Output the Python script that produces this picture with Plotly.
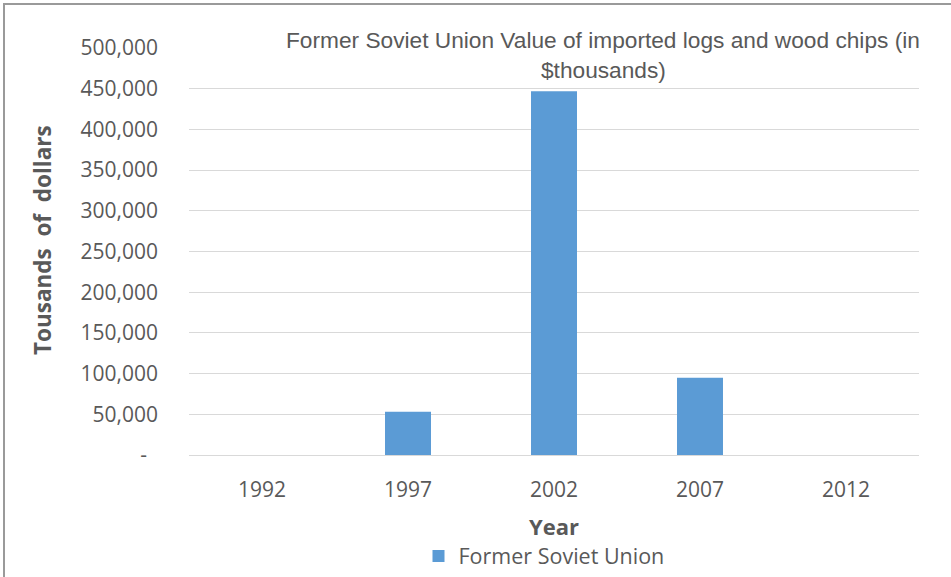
import plotly.graph_objects as go

years = ["1992", "1997", "2002", "2007", "2012"]
values = [0, 53000, 447000, 95000, 0]
series_name = "Former Soviet Union"
tick_vals = [0, 50000, 100000, 150000, 200000, 250000, 300000, 350000, 400000, 450000, 500000]
tick_text = ["-\u00a0\u00a0", "50,000", "100,000", "150,000", "200,000", "250,000",
             "300,000", "350,000", "400,000", "450,000", "500,000"]
title_line1 = "Former Soviet Union Value of imported logs and wood chips (in"
title_line2 = "$thousands)"
y_title = "Tousands  of  dollars"
x_title = "Year"

GRAY = "#595959"
FONT = "Open Sans, Segoe UI, sans-serif"
TFONT = "Liberation Sans, Arial, sans-serif"

fig = go.Figure()
fig.add_trace(go.Bar(x=years, y=values, name=series_name,
                     marker=dict(color="#5B9BD5", line=dict(width=0)), width=0.315))

L, R, T, B = 189, 32, 48, 122
W, H = 951, 577
pw, ph = W - L - R, H - T - B

def px(x):
    return (x - L) / pw

def py(y):
    return (H - B - y) / ph

fig.update_layout(
    template="none",
    width=W, height=H,
    margin=dict(l=L, r=R, t=T, b=B, pad=0, autoexpand=False),
    paper_bgcolor="white", plot_bgcolor="white",
    font=dict(family=FONT, color=GRAY, size=21),
    showlegend=True,
    legend=dict(orientation="h", x=px(544), y=py(556), xanchor="center", yanchor="middle",
                font=dict(size=21.5, color=GRAY, family=FONT), bgcolor="rgba(0,0,0,0)",
                itemwidth=30),
    xaxis=dict(type="category", showgrid=False, showline=True, linecolor="#D9D9D9", linewidth=1,
               ticks="", tickfont=dict(size=21, color=GRAY, family=FONT),
               ticklabelstandoff=16),
    yaxis=dict(range=[0, 500000], tickvals=tick_vals, ticktext=tick_text,
               showgrid=True, gridcolor="#D9D9D9", gridwidth=1,
               zeroline=False, showline=False, ticks="",
               tickfont=dict(size=21, color=GRAY, family=FONT),
               ticklabelstandoff=30),
    bargap=0.685,
)

fig.add_annotation(text=title_line1, xref="paper", yref="paper", x=px(603), y=py(40),
                   xanchor="center", yanchor="middle", showarrow=False,
                   font=dict(family=TFONT, size=22.7, color=GRAY))
fig.add_annotation(text=title_line2, xref="paper", yref="paper", x=px(603), y=py(70),
                   xanchor="center", yanchor="middle", showarrow=False,
                   font=dict(family=TFONT, size=22.7, color=GRAY))
fig.add_annotation(text="<b>" + y_title + "</b>", xref="paper", yref="paper", x=px(42), y=py(240),
                   xanchor="center", yanchor="middle", showarrow=False, textangle=-90,
                   font=dict(family=FONT, size=22.5, color=GRAY))
fig.add_annotation(text="<b>" + x_title + "</b>", xref="paper", yref="paper", x=px(554), y=py(526),
                   xanchor="center", yanchor="middle", showarrow=False,
                   font=dict(family=FONT, size=22, color=GRAY))

fig.add_shape(type="rect", xref="paper", yref="paper",
              x0=px(4), x1=px(1000), y0=py(640), y1=py(4),
              line=dict(color="#9A9A9A", width=2), fillcolor="rgba(0,0,0,0)", layer="below")

fig.write_html("out.html", config={"displayModeBar": False},
               post_script="document.body.style.margin='0';")
